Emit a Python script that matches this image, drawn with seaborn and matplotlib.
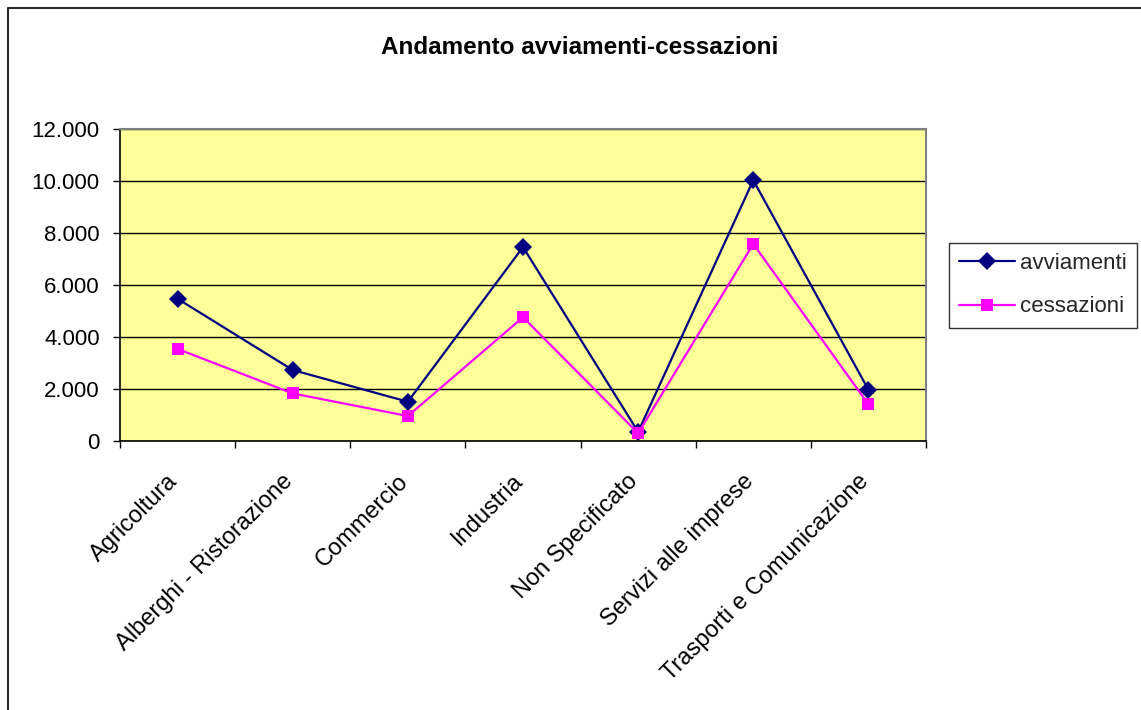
import numpy as np
import pandas as pd
import matplotlib
matplotlib.use("Agg")
import matplotlib.pyplot as plt
import matplotlib.transforms as mtransforms
import seaborn as sns
from matplotlib.ticker import FuncFormatter, FixedLocator
from matplotlib.patches import Rectangle
from matplotlib.lines import Line2D

categories = ["Agricoltura", "Alberghi - Ristorazione", "Commercio", "Industria",
              "Non Specificato", "Servizi alle imprese", "Trasporti e Comunicazione"]
avviamenti = [5470, 2730, 1510, 7460, 350, 10030, 1970]
cessazioni = [3540, 1830, 960, 4760, 300, 7580, 1410]
series_names = ["avviamenti", "cessazioni"]
y_ticks = [0, 2000, 4000, 6000, 8000, 10000, 12000]
title = "Andamento avviamenti-cessazioni"

sns.set_theme(style="white")
plt.rcParams["font.family"] = ["Liberation Sans", "DejaVu Sans"]

df = pd.DataFrame({"categoria": categories, "pos": np.arange(len(categories)),
                   "avviamenti": avviamenti, "cessazioni": cessazioni})
long = df.melt(id_vars=["categoria", "pos"], value_vars=series_names,
               var_name="serie", value_name="valore")

colors = {"avviamenti": "#000080", "cessazioni": "#FF00FF"}
markers = {"avviamenti": "D", "cessazioni": "s"}

W, H = 1141, 710
fig = plt.figure(figsize=(W / 100, H / 100), dpi=100)
fig.patch.set_facecolor("white")
ax = fig.add_axes([120 / W, 1 - 441 / H, 806 / W, 312 / H])
ax.set_facecolor("#FFFF99")

sns.lineplot(data=long, x="pos", y="valore", hue="serie", style="serie",
             markers=markers, dashes=False, palette=colors, markersize=9,
             linewidth=1.6, markeredgewidth=0, ax=ax, legend=False)

ax.set_xlim(-0.5, len(categories) - 0.5)
ax.set_ylim(y_ticks[0], y_ticks[-1])
ax.set_xlabel("")
ax.set_ylabel("")

ax.set_yticks(y_ticks)
ax.yaxis.set_major_formatter(FuncFormatter(lambda v, p: f"{int(v):,}".replace(",", ".")))
ax.yaxis.grid(True, color="black", linewidth=1.0)
ax.set_axisbelow(True)

ax.set_xticks(np.arange(len(categories)))
ax.set_xticklabels(categories, rotation=45, ha="right", va="top", rotation_mode="anchor")
ax.xaxis.set_minor_locator(FixedLocator(np.arange(len(categories) + 1) - 0.5))
ax.tick_params(axis="x", which="major", length=0, pad=21, labelsize=17, colors="black")
ax.tick_params(axis="x", which="minor", length=5, width=1, color="black", direction="out", bottom=True)
ax.tick_params(axis="y", length=5, width=1, color="black", direction="out", left=True,
               labelsize=16, labelcolor="black", pad=9.5)

offset = mtransforms.ScaledTranslation(-11 / 100, 0, fig.dpi_scale_trans)
for lbl in ax.get_xticklabels():
    lbl.set_transform(lbl.get_transform() + offset)

for s in ["left", "bottom"]:
    ax.spines[s].set_color("black")
    ax.spines[s].set_linewidth(1.2)
for s in ["top", "right"]:
    ax.spines[s].set_color("#808080")
    ax.spines[s].set_linewidth(1.5)

handles = [Line2D([0], [0], color=colors[n], marker=markers[n], markersize=9,
                  linewidth=1.6, markeredgewidth=0) for n in series_names]
leg = fig.legend(handles, series_names, loc="upper left",
                 bbox_to_anchor=(949 / W, 1 - 243 / H), frameon=True, fancybox=False,
                 edgecolor="black", fontsize=16, handlelength=2.5, borderpad=0.46,
                 labelspacing=1.0, handletextpad=0.22, borderaxespad=0)
leg.get_frame().set_linewidth(1.0)

fig.text(579.5 / W, 1 - 54.3 / H, title, ha="center", va="baseline",
         fontsize=17.5, fontweight="bold", color="black")

fig.add_artist(Rectangle((8 / W, -0.1), 1.2, 1.1 - 8 / H, transform=fig.transFigure,
                         fill=False, edgecolor="black", linewidth=1.2))

fig.savefig("out.png", dpi=100)
